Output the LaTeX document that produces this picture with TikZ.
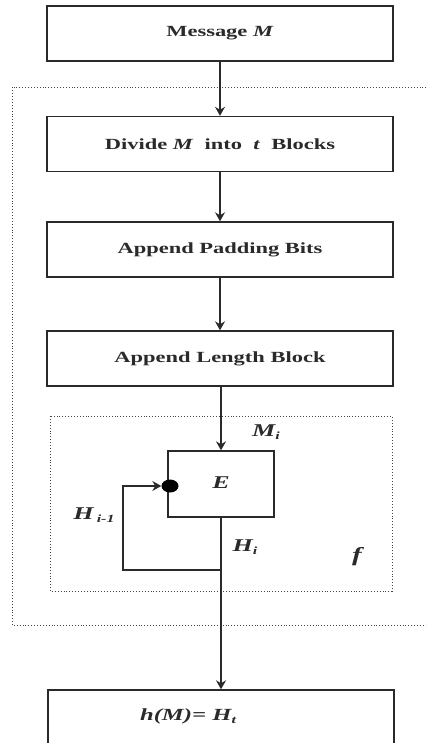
\documentclass[tikz,border=0pt]{standalone}
\usepackage{fontspec}
\setmainfont{Liberation Serif}[FakeStretch=1.45]
\usetikzlibrary{arrows.meta,shapes.geometric}
\definecolor{ink}{HTML}{2A2A2A}
\definecolor{dotc}{HTML}{444444}
\newcommand{\msub}[1]{\raisebox{-0.45ex}{\fontsize{11}{11}\selectfont #1}}
\begin{document}
\begin{tikzpicture}[x=1pt,y=-1pt,
 box/.style={draw=ink, line width=1.4pt, minimum width=346pt, minimum height=55pt, inner sep=0pt, font=\fontsize{15.5}{15.5}\selectfont\bfseries, text=ink},
 conn/.style={draw=ink, line width=1.3pt},
 arr/.style={conn, -{Stealth[length=9pt,width=10pt,inset=3pt]}},
 dotbox/.style={draw=dotc, line width=0.9pt, dotted},
 lab/.style={font=\fontsize{18}{18}\selectfont\bfseries\itshape, text=ink, inner sep=0pt}]
\useasboundingbox (0,0) rectangle (426,743);
\clip (0,0) rectangle (426,743);
% dotted frames
\draw[dotbox] (432,87) -- (12,87) -- (12,625) -- (432,625);
\draw[dotbox] (50,416) rectangle (392,591);
% boxes
\node[box] (msg) at (220,33.5) {Message \textit{M}};
\node[box] (div) at (220,144) {Divide \textit{M}~ into~ \textit{t}~ Blocks};
\node[box] (pad) at (220,249.5) {Append Padding Bits};
\node[box] (len) at (220,358.5) {Append Length Block};
\node[draw=ink, line width=1.4pt, minimum width=106pt, minimum height=66pt, inner sep=0pt] (E) at (221,484) {};
\node[lab] (Et) at (221,483) {E};
\node[box, minimum height=72pt] (fin) at (221,726) {};
\node[lab, font=\fontsize{17}{17}\selectfont\bfseries\itshape] (ht) at (188,716) {h(M)= H\msub{t}};
% connectors
\draw[arr] (msg.south) -- (div.north);
\draw[arr] (div.south) -- (pad.north);
\draw[arr] (pad.south) -- (len.north);
\draw[arr] (E.north |- len.south) -- (E.north);
\draw[arr] (E.south) -- (fin.north);
\node[ellipse, fill=black, minimum width=17pt, minimum height=13pt, inner sep=0pt] (dot) at (170,486) {};
\coordinate (j) at (221,570);
\coordinate (jl) at (123,570);
\draw[arr] (j) -- (jl) |- (dot.west);
% labels
\node[lab] (Mi) at (266,432) {M\msub{i}};
\node[lab] (Him) at (94,515) {H\,\msub{i-1}};
\node[lab] (Hi) at (245,547) {H\msub{i}};
\node[lab, font=\fontsize{20}{20}\selectfont\bfseries\itshape] (f) at (357,557) {f};
\end{tikzpicture}
\end{document}
